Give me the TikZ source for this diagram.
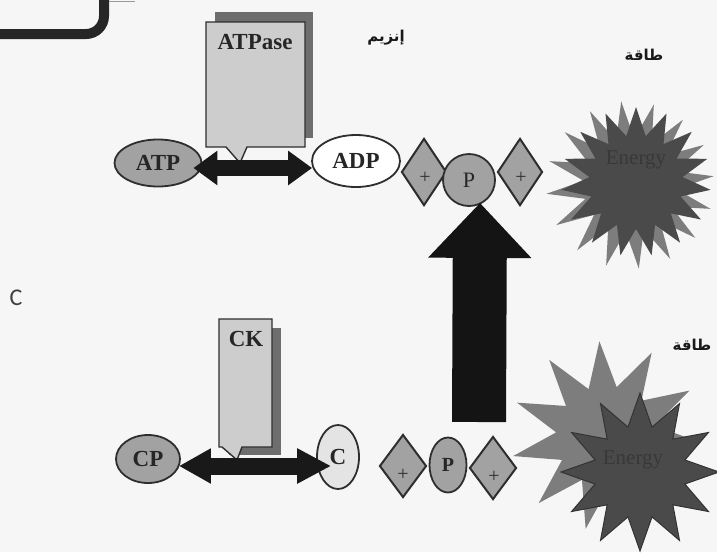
\documentclass[tikz,border=0pt]{standalone}
\usepackage{fontspec}
\setmainfont{Liberation Serif}
\newfontfamily\arabicfont[Script=Arabic]{DejaVu Sans}
\newfontfamily\labelfont{Carlito}
\TeXXeTstate=1
\usetikzlibrary{shapes.geometric,arrows.meta,calc}
\definecolor{bg}{HTML}{F6F6F6}
\definecolor{edge}{HTML}{2E2E2E}
\definecolor{molfill}{HTML}{A2A2A2}
\definecolor{boxfill}{HTML}{CDCDCD}
\definecolor{boxshadow}{HTML}{6E6E6E}
\definecolor{starlight}{HTML}{7D7D7D}
\definecolor{stardark}{HTML}{4A4A4A}
\definecolor{pale}{HTML}{E4E4E4}
\begin{document}
\begin{tikzpicture}[x=1pt,y=-1pt,
  mol/.style={ellipse, draw=edge, line width=1.8pt, fill=molfill, inner sep=0pt, text=black!85, font=\bfseries\fontsize{23}{23}\selectfont},
  gem/.style={diamond, draw=edge, line width=2pt, fill=molfill, inner sep=0pt},
  plus/.style={font=\fontsize{20}{20}\selectfont, text=edge, inner sep=0pt},
  callout/.style={draw=edge, line width=1.4pt, fill=boxfill},
  shadowbox/.style={fill=boxshadow},
  twoway/.style={line width=16pt, draw=black!90, {Triangle[length=24pt,width=33pt]}-{Triangle[length=24pt,width=33pt]}},
  twowayb/.style={line width=17pt, draw=black!90, {Triangle[length=32pt,width=33pt]}-{Triangle[length=34pt,width=33pt]}},
  burst/.style={star, inner sep=0pt},
  arab/.style={font=\arabicfont\bfseries\fontsize{15}{15}\selectfont, text=black!90, inner sep=0pt},
  energytext/.style={font=\fontsize{21}{21}\selectfont, text=black!78, inner sep=0pt}
]
\useasboundingbox (0,0) rectangle (717,552);
\fill[bg] (0,0) rectangle (717,552);

% cropped frame corner at top left
\draw[line width=10pt, black!85, rounded corners=18pt] (-10,34) -- (104,34) -- (104,-10);
\draw[line width=1pt, black!40] (109,1) -- (135,1);

% ATPase callout
\fill[shadowbox] (215,12) rectangle (313,138);
\draw[callout] (206,22) -- (305,22) -- (305,147) -- (247,147) -- (240,163) -- (226,147) -- (206,147) -- cycle;
\node[font=\bfseries\fontsize{23}{23}\selectfont, text=black!85] (atpase) at (255,42) {ATPase};

% CK callout
\fill[shadowbox] (229,328) rectangle (281,455);
\draw[callout] (219,319) -- (272,319) -- (272,447) -- (242,447) -- (237,460) -- (222,447) -- (219,447) -- cycle;
\node[font=\bfseries\fontsize{23}{23}\selectfont, text=black!85] (ck) at (246,339) {CK};

% top row
\node[mol, minimum width=87pt, minimum height=47pt] (atp) at (158,163) {ATP};
\node[mol, fill=white, minimum width=88pt, minimum height=52pt] (adp) at (356,161) {ADP};
\draw[twoway] ($(atp.east)+(-9,5)$) -- ($(adp.west)+(1,7)$);
\node[gem, minimum width=45pt, minimum height=67pt] (d1) at (424,172) {};
\node[gem, minimum width=45pt, minimum height=67pt] (d2) at (520,172) {};
\node[mol, circle, minimum size=52pt, font=\fontsize{22}{22}\selectfont] (p1) at (469,180) {P};
\node[plus] (pl1) at (425,178) {+};
\node[plus] (pl2) at (521,178) {+};

% top energy burst
\node[burst, star points=16, star point ratio=1.8, minimum size=168pt, fill=starlight, shape border rotate=6] (st1) at (630,185) {};
\node[burst, star points=15, star point ratio=1.6, minimum size=150pt, fill=stardark] (st2) at (636,182) {};
\node[energytext] (e1) at (636,160) {Energy};

% bottom row
\node[mol, minimum width=64pt, minimum height=48pt] (cp) at (148,459) {CP};
\node[mol, fill=pale, minimum width=42pt, minimum height=64pt] (c) at (338,457) {C};
\draw[twowayb] ($(cp.east)+(-2,7)$) -- ($(c.west)+(15,9)$);
\node[gem, minimum width=47pt, minimum height=63pt] (d3) at (403,466) {};
\node[gem, minimum width=47pt, minimum height=63pt] (d4) at (493,468) {};
\node[mol, minimum width=37pt, minimum height=55pt, font=\bfseries\fontsize{20}{20}\selectfont] (p2) at (448,465) {P};
\node[plus] (pl3) at (403,475) {+};
\node[plus] (pl4) at (494,477) {+};

% big up arrow
\coordinate (barfoot) at (479,422);
\draw[line width=54pt, draw=black!92, -{Triangle[length=55pt,width=100pt]}] (barfoot) -- ($(p1.south)+(11,-4)$);

% bottom energy bursts
\node[burst, star points=11, star point ratio=1.9, minimum size=190pt, fill=starlight, shape border rotate=4] (st3) at (606,436) {};
\node[burst, star points=12, star point ratio=1.7, minimum size=158pt, fill=stardark, draw=black!80, line width=1pt] (st4) at (640,472) {};
\node[energytext] (e2) at (633,460) {Energy};

% labels
\node[arab] (enz) at (386,38) {\beginR إنزيم\endR};
\node[arab] (en1) at (644,55) {\beginR طاقة\endR};
\node[arab] (en2) at (692,345) {\beginR طاقة\endR};
\node[font=\labelfont\fontsize{24}{24}\selectfont, text=black!75, inner sep=0pt] (lblc) at (16,298) {C};
\end{tikzpicture}
\end{document}
